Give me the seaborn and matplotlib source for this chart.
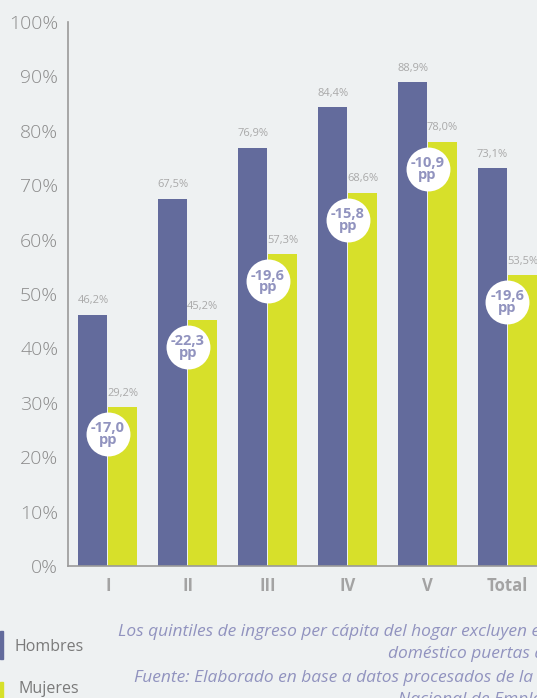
import matplotlib
matplotlib.use("Agg")
import matplotlib.pyplot as plt
import pandas as pd
import seaborn as sns
from matplotlib.patches import Rectangle

# data
quintiles = ["I", "II", "III", "IV", "V", "Total"]
hombres = [46.2, 67.5, 76.9, 84.4, 88.9, 73.1]
mujeres = [29.2, 45.2, 57.3, 68.6, 78.0, 53.5]
brechas = ["-17,0", "-22,3", "-19,6", "-15,8", "-10,9", "-19,6"]
notas = [
    "Los quintiles de ingreso per cápita del hogar excluyen el servicio",
    "doméstico puertas adentro.",
    "Fuente: Elaborado en base a datos procesados de la Encuesta",
    "Nacional de Empleo",
]

BG = "#eef1f2"
BLUE = "#636b9c"
YELLOW = "#d7e02a"
GREY = "#8c8c8c"
LAVENDER = "#9193bf"

sns.set_theme(style="white")
plt.rcParams["font.family"] = ["Open Sans", "DejaVu Sans"]

df = pd.DataFrame({
    "quintil": quintiles * 2,
    "valor": hombres + mujeres,
    "sexo": ["Hombres"] * len(quintiles) + ["Mujeres"] * len(quintiles),
})

fig = plt.figure(figsize=(5.37, 6.98), dpi=100, facecolor=BG)
ax = fig.add_axes([68 / 537, 1 - 566 / 698, 1 - 68 / 537, (566 - 22) / 698])
ax.set_facecolor(BG)

sns.barplot(data=df, x="quintil", y="valor", hue="sexo", order=quintiles,
            hue_order=["Hombres", "Mujeres"], palette=[BLUE, YELLOW],
            width=0.75, gap=0.03, saturation=1, legend=False, linewidth=0, ax=ax)

for cont in ax.containers:
    ax.bar_label(cont, labels=[f"{v:.1f}%".replace(".", ",") for v in cont.datavalues],
                 padding=6, fontsize=8, color="#a9a9a9")

# gap bubbles between the two bars
xs = list(range(len(quintiles)))
ys = [m - 5 for m in mujeres]
ax.scatter(xs, ys, s=1000, color="white", zorder=5, linewidths=0)
for x, y, b in zip(xs, ys, brechas):
    ax.text(x, y, f"{b}\npp", ha="center", va="center", fontsize=10.5,
            fontweight="bold", color=LAVENDER, zorder=6, linespacing=0.8)

ax.set_ylim(0, 100)
ax.set_xlim(-0.5, 5.37)
ax.set_yticks(range(0, 101, 10))
ax.set_yticklabels([f"{t}%" for t in range(0, 101, 10)], fontsize=14,
                   color=GREY, fontweight="light")
ax.set_xticks(xs)
ax.set_xticklabels(quintiles, fontsize=12, fontweight="bold", color="#a3a3a3")
ax.tick_params(axis="y", length=0, pad=7)
ax.tick_params(axis="x", length=0, pad=8)
ax.set_xlabel("")
ax.set_ylabel("")
for side in ["top", "right"]:
    ax.spines[side].set_visible(False)
for side in ["left", "bottom"]:
    ax.spines[side].set_color("#9a9a9a")
    ax.spines[side].set_linewidth(1.2)

# legend at the bottom left
fig.add_artist(Rectangle((0, 1 - 659 / 698), 3 / 537, 28 / 698,
                         transform=fig.transFigure, color=BLUE))
fig.add_artist(Rectangle((0, 0), 3 / 537, 16 / 698,
                         transform=fig.transFigure, color=YELLOW))
fig.text(15 / 537, 1 - 647 / 698, "Hombres", fontsize=11.5, color="#7a7a7a", va="center")
fig.text(18 / 537, 1 - 689 / 698, "Mujeres", fontsize=11.5, color="#7a7a7a", va="center")

# footnote (cut at the right edge as in the source)
for x0, y0, line in zip([118, 388, 134, 398], [632, 654, 678, 700], notas):
    fig.text(x0 / 537, 1 - y0 / 698, line, fontsize=12.5, style="italic",
             color=LAVENDER, va="center")

fig.savefig("out.png", dpi=100, facecolor=BG)
